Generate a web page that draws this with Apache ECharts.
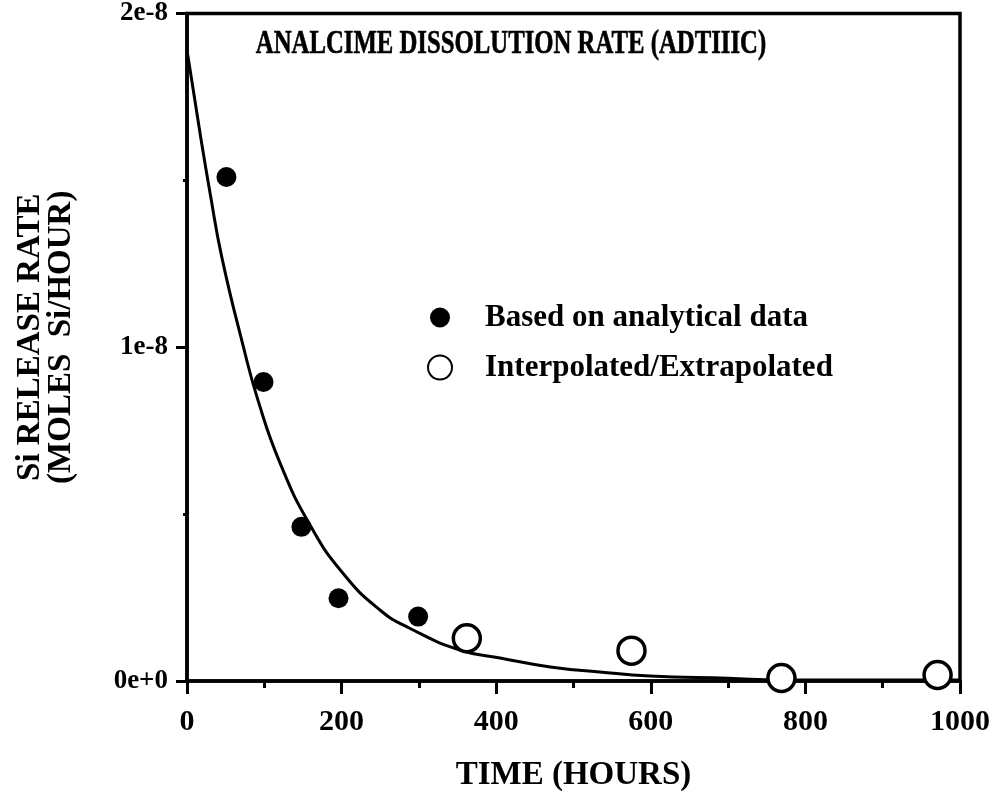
<!DOCTYPE html>
<html>
<head>
<meta charset="utf-8">
<style>
  html, body { margin: 0; padding: 0; background: #fff; }
  #chart { width: 994px; height: 805px; }
</style>
<script src="https://cdn.jsdelivr.net/npm/echarts@6/dist/echarts.min.js"></script>
</head>
<body>
<div id="chart"></div>
<script>
// Time (hours) and Si release rate (moles Si/hour)
const analyticalTimes = [51, 99, 148, 196, 299];
const analyticalRates = [1.51e-8, 0.896e-8, 0.462e-8, 0.248e-8, 0.193e-8];

const interpTimes = [362, 575, 769, 971];
const interpRates = [0.128e-8, 0.091e-8, 0.009e-8, 0.018e-8];

// Fitted decay curve, read point by point
const curveTimes = [0, 17, 30, 45, 72, 92, 120, 159, 202, 250, 288, 353, 405, 470, 534, 599, 700, 770, 1000];
const curveRates = [1.89e-8, 1.64e-8, 1.46e-8, 1.27e-8, 1.01e-8, 0.84e-8, 0.655e-8, 0.468e-8, 0.322e-8, 0.212e-8,
                    0.158e-8, 0.093e-8, 0.069e-8, 0.042e-8, 0.027e-8, 0.015e-8, 0.008e-8, 0.003e-8, 0.003e-8];

const yTickLabels = { 0: '0e+0', 1: '1e-8', 2: '2e-8' };

const SERIF = "'Liberation Serif', 'Times New Roman', serif";

const zip = (xs, ys) => xs.map((x, i) => [x, ys[i]]);

const chart = echarts.init(document.getElementById('chart'), null, { renderer: 'canvas' });

chart.setOption({
  animation: false,
  backgroundColor: '#fff',
  grid: {
    left: 187, right: 34, top: 13, bottom: 124,
    show: true, borderColor: '#000', borderWidth: 3.5
  },
  graphic: [{
    type: 'text',
    x: 511, y: 44,
    scaleX: 0.75,
    style: {
      text: 'ANALCIME DISSOLUTION RATE (ADTIIIC)',
      font: 'bold 33px ' + SERIF,
      fill: '#000',
      stroke: '#000',
      lineWidth: 0.6,
      align: 'center',
      verticalAlign: 'middle'
    }
  }],
  legend: {
    orient: 'vertical',
    left: 422, top: 297,
    itemWidth: 24, itemHeight: 24,
    itemGap: 19,
    textStyle: {
      fontFamily: SERIF, fontWeight: 'bold', fontSize: 31, color: '#000',
      padding: [0, 0, 0, 28], lineHeight: 28
    },
    data: [
      {
        name: 'Based on analytical data',
        itemStyle: { color: '#000', borderWidth: 0 },
        icon: 'path://M0,0L0,0M24,24L24,24M12,2a10,10 0 1,0 0.001,0Z'
      },
      { name: 'Interpolated/Extrapolated' }
    ]
  },
  xAxis: {
    type: 'value',
    min: 0, max: 1000, interval: 200,
    name: 'TIME (HOURS)',
    nameLocation: 'middle',
    nameGap: 78,
    nameTextStyle: { fontFamily: SERIF, fontWeight: 'bold', fontSize: 33, color: '#000' },
    axisLine: { show: true, onZero: false, lineStyle: { color: '#000', width: 3.5 } },
    axisTick: { show: true, inside: false, length: 13, lineStyle: { color: '#000', width: 3 } },
    minorTick: { show: true, splitNumber: 2, length: 7, lineStyle: { color: '#000', width: 3 } },
    axisLabel: {
      margin: 26, fontFamily: SERIF, fontWeight: 'bold', fontSize: 30, color: '#000',
      formatter: v => String(v)
    },
    splitLine: { show: false }
  },
  yAxis: {
    type: 'value',
    min: 0, max: 2e-8, interval: 1e-8,
    name: 'Si RELEASE RATE\n(MOLES  Si/HOUR)',
    nameLocation: 'middle',
    nameRotate: 90,
    nameGap: 110,
    nameTextStyle: {
      fontFamily: SERIF, fontWeight: 'bold', fontSize: 33, color: '#000', lineHeight: 31,
      padding: [0, 0, 0, 20]
    },
    axisLine: { show: true, onZero: false, lineStyle: { color: '#000', width: 3.5 } },
    axisTick: { show: true, inside: false, length: 11, lineStyle: { color: '#000', width: 3 } },
    minorTick: { show: true, splitNumber: 2, length: 4, lineStyle: { color: '#000', width: 3 } },
    axisLabel: {
      margin: 19, fontFamily: SERIF, fontWeight: 'bold', fontSize: 27, color: '#000',
      formatter: v => yTickLabels[Math.round(v / 1e-8)] ?? ''
    },
    splitLine: { show: false }
  },
  series: [
    {
      name: 'fit',
      type: 'line',
      data: zip(curveTimes, curveRates),
      showSymbol: false,
      smooth: 0.5,
      lineStyle: { color: '#000', width: 3 },
      z: 1
    },
    {
      name: 'Based on analytical data',
      type: 'scatter',
      data: zip(analyticalTimes, analyticalRates),
      symbol: 'circle',
      symbolSize: 20,
      itemStyle: { color: '#000', opacity: 1 },
      z: 3
    },
    {
      name: 'Interpolated/Extrapolated',
      type: 'scatter',
      data: zip(interpTimes, interpRates),
      symbol: 'circle',
      symbolSize: 27,
      itemStyle: { color: '#fff', borderColor: '#000', borderWidth: 3.5, opacity: 1 },
      z: 3
    }
  ]
});
</script>
</body>
</html>
